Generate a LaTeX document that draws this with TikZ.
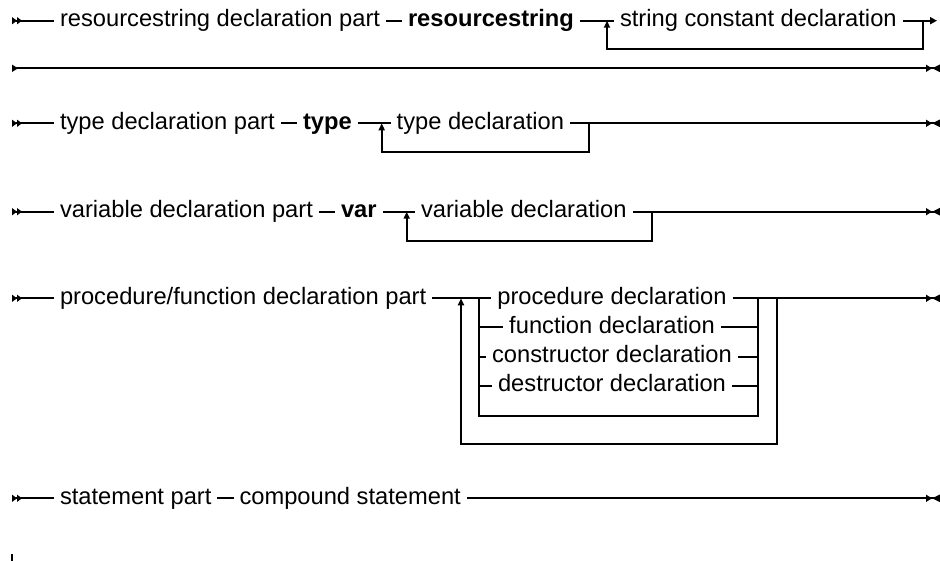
\documentclass[tikz,border=0pt]{standalone}
\usepackage{fontspec}
\setmainfont{Liberation Sans}
\usepackage{tikz}
\usetikzlibrary{arrows.meta}
\tikzset{
  term/.style={inner xsep=6pt, inner ysep=0pt, outer sep=0pt, text height=17.8pt, text depth=5.9pt, font=\fontsize{23.7pt}{28pt}\selectfont},
  kw/.style={term, font=\fontsize{23.7pt}{28pt}\selectfont\bfseries},
  rail/.style={line width=2.2pt},
  railstart/.style={rail, {Triangle[reversed,length=5pt,width=7pt]Triangle[reversed,length=5pt,width=7pt]}-},
  railend/.style={rail, -{Triangle[length=6pt,width=7pt]Triangle[reversed,length=8pt,width=7pt]}},
  railcont/.style={rail, -{Triangle[length=7pt,width=7pt]}},
  railback/.style={rail, -{Triangle[length=7pt,width=6pt]}}
}

\begin{document}
\begin{tikzpicture}[x=1pt,y=-1pt]
  \useasboundingbox (0,0) rectangle (940,561);
  % resourcestring
  \coordinate (s1) at (12,20.7);
  \node[term, anchor=west] (r1a) at (54,20.7) {resourcestring declaration part};
  \node[kw, anchor=west] (r1b) at (402,20.7) {resourcestring};
  \coordinate (j1a) at (607,20.7);
  \node[term, anchor=west] (r1c) at (614,20.7) {string constant declaration};
  \coordinate (j1b) at (923,20.7);
  \coordinate (e1) at (937,20.7);
  \draw[railstart] (s1) -- (r1a);
  \draw[rail] (r1a) -- (r1b);
  \draw[rail] (r1b) -- (j1a) -- (r1c);
  \draw[rail] (r1c) -- (j1b);
  \draw[railcont] (j1b) -- (e1);
  \draw[railback] (j1b) -- ++(0,28.6) -| (j1a);
  \coordinate (s2) at (12,68.3);
  \coordinate (e2) at (940,68.3);
  \draw[rail, {Triangle[reversed,length=6pt,width=7pt]}-{Triangle[length=6pt,width=7pt]Triangle[reversed,length=8pt,width=7pt]}] (s2) -- (e2);
  % type
  \coordinate (s3) at (12,123.3);
  \node[term, anchor=west] (r3a) at (54,123.3) {type declaration part};
  \node[kw, anchor=west] (r3b) at (297,123.3) {type};
  \coordinate (j3a) at (381.7,123.3);
  \node[term, anchor=west] (r3c) at (390.7,123.3) {type declaration};
  \coordinate (j3b) at (589,123.3);
  \coordinate (e3) at (940,123.3);
  \draw[railstart] (s3) -- (r3a);
  \draw[rail] (r3a) -- (r3b);
  \draw[rail] (r3b) -- (j3a) -- (r3c);
  \draw[rail] (r3c) -- (j3b);
  \draw[railend] (j3b) -- (e3);
  \draw[railback] (j3b) -- ++(0,29) -| (j3a);
  % var
  \coordinate (s4) at (12,211.7);
  \node[term, anchor=west] (r4a) at (54,211.7) {variable declaration part};
  \node[kw, anchor=west] (r4b) at (335,211.7) {var};
  \coordinate (j4a) at (406.7,211.7);
  \node[term, anchor=west] (r4c) at (415,211.7) {variable declaration};
  \coordinate (j4b) at (652,211.7);
  \coordinate (e4) at (940,211.7);
  \draw[railstart] (s4) -- (r4a);
  \draw[rail] (r4a) -- (r4b);
  \draw[rail] (r4b) -- (j4a) -- (r4c);
  \draw[rail] (r4c) -- (j4b);
  \draw[railend] (j4b) -- (e4);
  \draw[railback] (j4b) -- ++(0,29) -| (j4a);
  % procedure/function
  \coordinate (s5) at (12,298.3);
  \node[term, anchor=west] (r5a) at (54,298.3) {procedure/function declaration part};
  \coordinate (j5a) at (461,298.3);
  \coordinate (j5b) at (479.3,298.3);
  \node[term] (r5b) at (612,298.3) {procedure declaration};
  \node[term] (r5c) at (612,327.3) {function declaration};
  \node[term] (r5d) at (612,356.7) {constructor declaration};
  \node[term] (r5e) at (612,386) {destructor declaration};
  \coordinate (j5c) at (758.3,298.3);
  \coordinate (j5d) at (776.7,298.3);
  \coordinate (e5) at (940,298.3);
  \draw[railstart] (s5) -- (r5a);
  \draw[rail] (r5a) -- (j5a) -- (j5b) -- (r5b);
  \draw[rail] (r5b) -- (j5c);
  \draw[railend] (j5c) -- (e5);
  \draw[rail] (j5b |- r5c) -- (r5c);
  \draw[rail] (r5c) -- (j5c |- r5c);
  \draw[rail] (j5b |- r5d) -- (r5d);
  \draw[rail] (r5d) -- (j5c |- r5d);
  \draw[rail] (j5b |- r5e) -- (r5e);
  \draw[rail] (r5e) -- (j5c |- r5e);
  \draw[rail] (j5b) -- ++(0,117.4) -| (j5c);
  \draw[railback] (j5d) -- ++(0,146) -| (j5a);
  % statement
  \coordinate (s6) at (12,498.3);
  \node[term, anchor=west] (r6a) at (54,498.3) {statement part};
  \node[term, anchor=west] (r6b) at (233.5,498.3) {compound statement};
  \coordinate (e6) at (940,498.3);
  \draw[railstart] (s6) -- (r6a);
  \draw[rail] (r6a) -- (r6b);
  \draw[railend] (r6b) -- (e6);
  \coordinate (s7) at (12,554);
  \draw[rail] (s7) -- ++(0,8);
\end{tikzpicture}
\end{document}
